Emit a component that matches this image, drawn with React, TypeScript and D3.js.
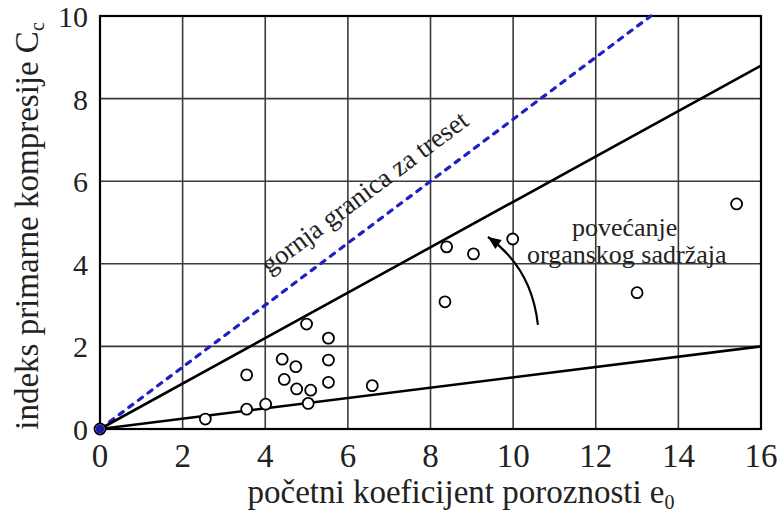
import React from "react";
import * as d3 from "d3";

const xTicks = [0, 2, 4, 6, 8, 10, 12, 14, 16];
const yTicks = [0, 2, 4, 6, 8, 10];

// measured points (e0, Cc)
const pointsE = [0, 2.55, 3.55, 3.55, 4.01, 4.41, 4.46, 4.74, 4.76, 5.0, 5.04, 5.1, 5.53, 5.53, 5.53, 6.59, 8.35, 8.39, 9.04, 9.99, 13.0, 15.41];
const pointsC = [0, 0.24, 0.48, 1.31, 0.6, 1.69, 1.2, 1.51, 0.97, 2.54, 0.62, 0.94, 2.2, 1.67, 1.13, 1.05, 3.08, 4.41, 4.24, 4.6, 3.3, 5.45];

// reference lines Cc = slope * e0
const lineNames = ["upper", "middle", "lower"];
const lineSlopes = [0.75, 0.55, 0.125];

const arrowE = [10.6, 10.45, 9.39];
const arrowC = [2.52, 3.9, 4.65];

const W = 777;
const H = 512;
const margin = { left: 100, right: 16, top: 16, bottom: 83 };
const FONT = "'Liberation Serif', 'Times New Roman', 'DejaVu Serif', serif";
const tStyle: React.CSSProperties = { fontFamily: FONT };

export default function App() {
  const x = d3.scaleLinear().domain([0, 16]).range([margin.left, W - margin.right]);
  const y = d3.scaleLinear().domain([0, 10]).range([H - margin.bottom, margin.top]);

  const lineGen = d3.line<[number, number]>().x((d) => x(d[0])).y((d) => y(d[1]));

  const lines = lineSlopes.map((s, i) => {
    const eEnd = Math.min(16, 10 / s);
    return { name: lineNames[i], d: lineGen([[0, 0], [eEnd, s * eEnd]]) as string };
  });

  const arrowPath = `M${x(arrowE[0])},${y(arrowC[0])} Q${x(arrowE[1])},${y(arrowC[1])} ${x(arrowE[2])},${y(arrowC[2])}`;
  const hx = x(arrowE[2]);
  const hy = y(arrowC[2]);
  const ang = Math.atan2(hy - y(arrowC[1]), hx - x(arrowE[1]));
  const L = 13;
  const Wd = 5.5;
  const bx = hx - L * Math.cos(ang);
  const by = hy - L * Math.sin(ang);
  const head = `M${hx},${hy} L${bx + Wd * Math.sin(ang)},${by - Wd * Math.cos(ang)} L${bx - Wd * Math.sin(ang)},${by + Wd * Math.cos(ang)} Z`;

  const slopePx = (y(0) - y(lineSlopes[0])) / (x(1) - x(0));
  const angDeg = -Math.atan(slopePx) * 180 / Math.PI;
  const lx = x(6.85);
  const ly = y(6.85 * lineSlopes[0]);
  const perp = 22;
  const nx = Math.sin(angDeg * Math.PI / 180) * perp;
  const ny = -Math.cos(angDeg * Math.PI / 180) * perp;

  return (
    <svg width={W} height={H} style={{ position: "absolute", left: 0, top: 0, background: "#fff" }}>
      {xTicks.map((t) => (
        <line key={"gx" + t} x1={x(t)} x2={x(t)} y1={y(0)} y2={y(10)} stroke="#3a3a3a" strokeWidth={1.6} />
      ))}
      {yTicks.map((t) => (
        <line key={"gy" + t} x1={x(0)} x2={x(16)} y1={y(t)} y2={y(t)} stroke="#3a3a3a" strokeWidth={1.6} />
      ))}
      <rect x={x(0)} y={y(10)} width={x(16) - x(0)} height={y(0) - y(10)} fill="none" stroke="#000" strokeWidth={2.2} />

      <path d={lines[0].d} stroke="#1f1fc8" strokeWidth={3.2} strokeDasharray="5 7" strokeLinecap="round" fill="none" />
      <path d={lines[1].d} stroke="#000" strokeWidth={2.6} fill="none" />
      <path d={lines[2].d} stroke="#000" strokeWidth={2.6} fill="none" />

      {pointsE.map((e, i) => (
        <circle key={"p" + i} cx={x(e)} cy={y(pointsC[i])} r={5.5} fill="#fff" stroke="#000" strokeWidth={1.8} />
      ))}
      <circle cx={x(0)} cy={y(0)} r={4.5} fill="#1a1aa8" />

      <path d={arrowPath} stroke="#000" strokeWidth={2.2} fill="none" />
      <path d={head} fill="#000" />

      <text style={tStyle} x={x(12.7)} y={y(4.68)} fontSize={26} textAnchor="middle" fill="#222">povećanje</text>
      <text style={tStyle} x={x(12.75)} y={y(4.03)} fontSize={26} textAnchor="middle" fill="#222">organskog sadržaja</text>
      <text
        style={tStyle}
        transform={`translate(${lx + nx},${ly + ny}) rotate(${angDeg})`}
        fontSize={27}
        textAnchor="middle"
        fill="#222"
      >gornja granica za treset</text>

      {xTicks.map((t) => (
        <text style={tStyle} key={"tx" + t} x={x(t)} y={y(0) + 38} fontSize={33} textAnchor="middle" fill="#222">{t}</text>
      ))}
      {yTicks.map((t) => (
        <text style={tStyle} key={"ty" + t} x={x(0) - 12} y={y(t) + 11} fontSize={30} textAnchor="end" fill="#222">{t}</text>
      ))}

      <text style={tStyle} x={461} y={H - 9} fontSize={33} textAnchor="middle" fill="#222">
        početni koeficijent poroznosti e<tspan fontSize={20} dy={6}>0</tspan>
      </text>
      <text style={tStyle} transform={`translate(38,226) rotate(-90)`} fontSize={33} textAnchor="middle" fill="#222">
        indeks primarne kompresije C<tspan fontSize={20} dy={6}>c</tspan>
      </text>
    </svg>
  );
}
